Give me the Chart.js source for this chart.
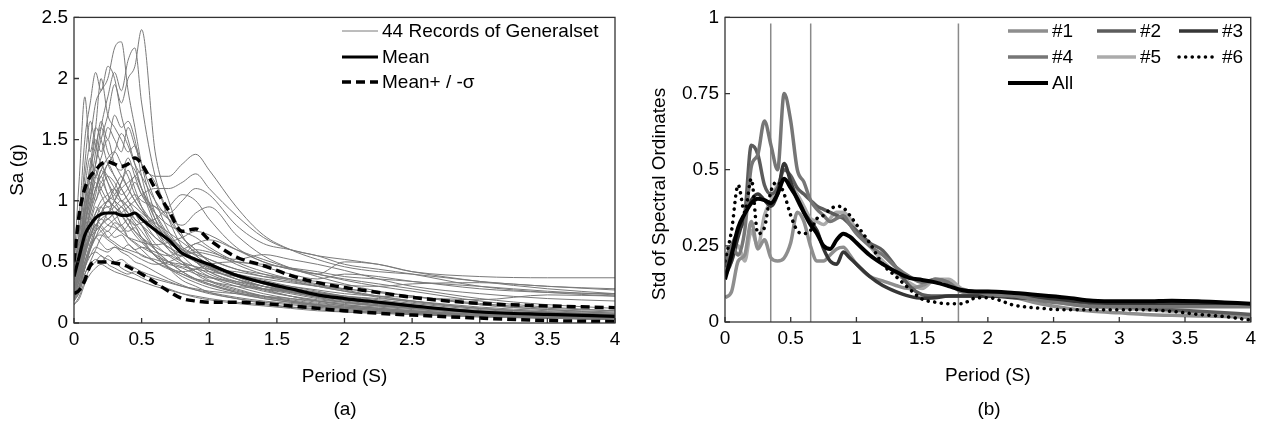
<!DOCTYPE html>
<html>
<head>
<meta charset="utf-8">
<script src="https://cdn.jsdelivr.net/npm/chart.js@4.4.0/dist/chart.umd.min.js"></script>
<style>
  body { margin: 0; background: #fff; }
  #wrap { position: relative; width: 1261px; height: 431px; font-family: "Liberation Sans", Arial, sans-serif; }
  canvas { position: absolute; top: 0; }
  .cap { position: absolute; top: 398px; width: 100px; text-align: center; font-size: 19px; color: #000; }
</style>
</head>
<body>
<div id="wrap">
  <canvas id="chartA" width="630" height="431" style="left:0"></canvas>
  <canvas id="chartB" width="631" height="431" style="left:630px"></canvas>
  <div class="cap" style="left:295px">(a)</div>
  <div class="cap" style="left:939px">(b)</div>
</div>
<script>
// ---- panel (a): spectral acceleration of the records ----
const periodA = [0, 0.04, 0.08, 0.12, 0.16, 0.2, 0.25, 0.3, 0.35, 0.4, 0.45, 0.5, 0.6, 0.7, 0.8, 0.9, 1.0, 1.2, 1.4, 1.6, 1.8, 2.0, 2.25, 2.5, 3.0, 3.5, 4.0];

const records = [
  [0.40,0.55,0.90,1.10,1.30,1.50,1.70,1.95,1.80,2.00,2.10,2.40,1.40,1.00,0.72,0.56,0.46,0.36,0.28,0.22,0.18,0.15,0.12,0.10,0.07,0.05,0.04],
  [0.45,0.75,1.20,1.50,1.80,1.90,2.00,2.25,2.30,1.90,1.60,1.30,0.90,0.70,0.55,0.45,0.38,0.30,0.24,0.20,0.17,0.14,0.12,0.10,0.07,0.05,0.04],
  [0.35,0.50,0.80,1.00,1.30,1.60,1.85,2.05,1.90,2.15,2.25,1.80,1.20,0.90,0.70,0.60,0.50,0.40,0.32,0.26,0.21,0.17,0.14,0.12,0.09,0.07,0.05],
  [0.50,0.90,1.50,1.80,2.05,1.90,2.10,2.00,1.70,1.50,1.30,1.10,0.80,0.60,0.50,0.42,0.35,0.28,0.22,0.18,0.15,0.12,0.10,0.08,0.06,0.04,0.03],
  [0.50,1.20,1.85,1.40,1.60,1.50,1.30,1.20,1.10,1.00,0.90,0.80,0.60,0.45,0.35,0.30,0.25,0.20,0.16,0.13,0.11,0.09,0.08,0.07,0.05,0.04,0.03],
  [0.30,0.40,0.60,0.70,0.80,0.85,0.90,1.00,1.10,1.15,1.20,1.25,1.20,1.20,1.30,1.38,1.25,0.95,0.72,0.60,0.52,0.46,0.42,0.40,0.34,0.30,0.28],
  [0.25,0.35,0.50,0.60,0.70,0.75,0.80,0.85,0.90,0.95,1.00,1.05,1.10,1.10,1.15,1.22,1.10,0.88,0.70,0.60,0.55,0.48,0.44,0.40,0.30,0.25,0.22],
  [0.30,0.40,0.60,0.70,0.75,0.80,0.85,0.90,0.95,1.00,1.05,1.00,0.95,0.90,1.00,1.10,1.05,0.80,0.65,0.60,0.55,0.52,0.48,0.42,0.38,0.37,0.37],
  [0.40,0.60,1.00,1.30,1.60,2.00,1.70,1.60,1.50,1.40,1.45,1.30,1.00,0.75,0.60,0.50,0.42,0.33,0.27,0.22,0.18,0.15,0.13,0.11,0.08,0.06,0.05],
  [0.30,0.50,0.80,1.10,1.40,1.65,1.50,1.70,1.60,1.65,1.50,1.20,0.85,0.65,0.50,0.40,0.34,0.27,0.22,0.18,0.15,0.13,0.11,0.09,0.07,0.05,0.04],
  [0.35,0.55,0.90,1.20,1.50,1.40,1.60,1.50,1.40,1.60,1.45,1.30,1.15,0.85,0.62,0.50,0.42,0.34,0.28,0.24,0.20,0.17,0.14,0.12,0.09,0.07,0.05],
  [0.25,0.45,0.70,0.90,1.10,1.20,1.30,1.40,1.55,1.45,1.30,1.20,1.00,0.85,0.70,0.60,0.50,0.38,0.30,0.25,0.21,0.18,0.15,0.12,0.09,0.07,0.05],
  [0.30,0.50,0.85,1.10,1.25,1.15,1.30,1.20,1.10,1.00,0.95,0.90,0.80,0.70,0.62,0.55,0.48,0.40,0.35,0.30,0.26,0.22,0.18,0.15,0.10,0.08,0.06],
  [0.28,0.40,0.65,0.85,1.00,1.10,1.20,1.15,1.05,1.10,1.20,1.10,0.85,0.70,0.60,0.52,0.45,0.36,0.30,0.26,0.22,0.19,0.16,0.13,0.09,0.07,0.05],
  [0.40,0.65,1.00,1.15,1.10,1.20,1.05,1.00,0.95,0.90,0.85,0.80,0.65,0.55,0.48,0.42,0.38,0.32,0.28,0.25,0.22,0.19,0.16,0.13,0.09,0.07,0.05],
  [0.22,0.35,0.55,0.75,0.90,1.00,1.05,1.10,1.00,0.95,0.90,0.88,0.75,0.65,0.60,0.56,0.52,0.44,0.38,0.34,0.30,0.26,0.21,0.17,0.12,0.09,0.07],
  [0.30,0.45,0.70,0.80,0.90,0.95,0.85,0.90,0.80,0.75,0.78,0.70,0.60,0.50,0.42,0.36,0.32,0.26,0.22,0.19,0.16,0.14,0.12,0.10,0.07,0.05,0.04],
  [0.20,0.30,0.45,0.60,0.75,0.80,0.90,0.95,1.00,0.95,0.85,0.80,0.70,0.62,0.56,0.50,0.46,0.40,0.36,0.33,0.30,0.28,0.25,0.22,0.15,0.11,0.08],
  [0.35,0.50,0.75,0.85,0.80,0.90,0.95,0.85,0.80,0.85,0.80,0.70,0.55,0.45,0.38,0.33,0.29,0.24,0.20,0.17,0.15,0.13,0.11,0.09,0.06,0.05,0.04],
  [0.25,0.40,0.55,0.70,0.80,0.75,0.70,0.75,0.80,0.70,0.65,0.60,0.50,0.44,0.40,0.36,0.34,0.30,0.28,0.26,0.24,0.22,0.19,0.16,0.11,0.08,0.06],
  [0.18,0.25,0.40,0.50,0.60,0.70,0.75,0.70,0.72,0.65,0.60,0.62,0.58,0.55,0.60,0.65,0.68,0.60,0.52,0.45,0.40,0.36,0.32,0.28,0.20,0.15,0.12],
  [0.30,0.45,0.60,0.65,0.70,0.65,0.60,0.62,0.58,0.55,0.50,0.48,0.42,0.36,0.31,0.27,0.24,0.20,0.17,0.15,0.13,0.11,0.09,0.08,0.06,0.04,0.03],
  [0.20,0.30,0.45,0.55,0.62,0.60,0.58,0.62,0.60,0.64,0.60,0.55,0.52,0.48,0.45,0.40,0.37,0.34,0.30,0.27,0.25,0.22,0.20,0.18,0.13,0.10,0.08],
  [0.22,0.32,0.48,0.55,0.58,0.55,0.52,0.50,0.52,0.48,0.45,0.42,0.38,0.34,0.30,0.27,0.25,0.21,0.18,0.16,0.14,0.12,0.10,0.09,0.06,0.05,0.04],
  [0.18,0.26,0.40,0.48,0.52,0.50,0.55,0.50,0.45,0.42,0.40,0.37,0.32,0.28,0.24,0.21,0.19,0.16,0.14,0.12,0.10,0.09,0.08,0.07,0.05,0.04,0.03],
  [0.15,0.22,0.35,0.45,0.50,0.55,0.48,0.45,0.42,0.40,0.42,0.40,0.36,0.33,0.30,0.28,0.26,0.24,0.22,0.20,0.18,0.16,0.14,0.12,0.08,0.06,0.05],
  [0.30,0.50,0.80,1.00,1.15,1.05,0.95,1.00,1.15,1.25,1.10,0.95,0.75,0.60,0.55,0.65,0.60,0.48,0.40,0.35,0.30,0.26,0.22,0.18,0.12,0.09,0.07],
  [0.35,0.60,0.95,1.25,1.45,1.60,1.40,1.30,1.20,1.10,1.00,0.92,0.78,0.66,0.58,0.52,0.46,0.38,0.32,0.27,0.23,0.20,0.16,0.13,0.09,0.07,0.05],
  [0.25,0.40,0.65,0.95,1.20,1.35,1.50,1.30,1.25,1.35,1.20,1.05,0.90,0.80,0.75,0.70,0.62,0.50,0.42,0.36,0.31,0.27,0.22,0.18,0.12,0.09,0.07],
  [0.28,0.42,0.70,0.90,1.05,1.25,1.15,1.05,1.00,1.05,1.15,1.05,0.95,0.85,0.80,0.90,0.95,0.72,0.55,0.45,0.38,0.32,0.26,0.22,0.15,0.11,0.09],
  [0.32,0.48,0.80,1.05,1.20,1.10,1.00,0.95,0.90,0.85,0.80,0.82,0.85,0.95,1.05,1.00,0.85,0.62,0.50,0.44,0.40,0.35,0.30,0.26,0.18,0.13,0.10],
  [0.40,0.70,1.10,1.35,1.20,1.30,1.15,1.00,0.90,0.80,0.72,0.66,0.55,0.46,0.40,0.35,0.31,0.25,0.21,0.18,0.15,0.13,0.11,0.09,0.06,0.05,0.04],
  [0.22,0.35,0.55,0.70,0.85,0.95,1.00,1.05,1.15,1.30,1.25,1.10,0.90,0.72,0.60,0.52,0.47,0.40,0.34,0.29,0.25,0.21,0.17,0.14,0.10,0.07,0.05],
  [0.20,0.28,0.45,0.60,0.70,0.80,0.85,0.80,0.75,0.80,0.90,0.85,0.70,0.62,0.55,0.58,0.56,0.50,0.48,0.45,0.42,0.38,0.36,0.34,0.28,0.25,0.24],
  [0.25,0.36,0.58,0.72,0.80,0.78,0.70,0.66,0.62,0.60,0.58,0.56,0.50,0.45,0.42,0.44,0.48,0.50,0.46,0.40,0.36,0.40,0.38,0.34,0.30,0.26,0.23],
  [0.20,0.30,0.50,0.62,0.70,0.72,0.68,0.64,0.60,0.58,0.55,0.52,0.48,0.50,0.55,0.60,0.58,0.52,0.56,0.52,0.48,0.43,0.36,0.30,0.24,0.20,0.18],
  [0.45,0.75,1.30,1.65,1.45,1.30,1.20,1.10,1.00,0.90,0.82,0.75,0.60,0.50,0.42,0.36,0.32,0.25,0.20,0.17,0.14,0.12,0.10,0.08,0.06,0.04,0.03],
  [0.30,0.45,0.75,0.95,1.10,1.25,1.35,1.40,1.30,1.20,1.05,0.95,0.80,0.68,0.58,0.50,0.44,0.36,0.30,0.26,0.22,0.19,0.16,0.13,0.09,0.07,0.05],
  [0.28,0.40,0.62,0.80,0.95,0.90,1.00,0.95,0.88,0.80,0.75,0.70,0.62,0.56,0.50,0.46,0.44,0.42,0.38,0.36,0.34,0.31,0.30,0.32,0.33,0.30,0.27],
  [0.15,0.20,0.32,0.40,0.45,0.48,0.45,0.42,0.40,0.38,0.36,0.34,0.30,0.27,0.24,0.22,0.20,0.17,0.15,0.13,0.12,0.10,0.09,0.08,0.06,0.05,0.04],
  [0.35,0.55,0.90,1.10,1.00,1.15,1.05,0.90,0.95,0.85,0.75,0.68,0.55,0.50,0.48,0.46,0.40,0.32,0.26,0.22,0.19,0.17,0.15,0.13,0.09,0.07,0.05],
  [0.18,0.28,0.45,0.62,0.75,0.90,1.00,1.10,1.20,1.10,1.00,0.92,0.82,0.74,0.66,0.58,0.52,0.44,0.40,0.36,0.32,0.28,0.25,0.22,0.16,0.12,0.10],
  [0.26,0.38,0.60,0.75,0.85,0.80,0.75,0.82,0.78,0.70,0.66,0.62,0.56,0.50,0.46,0.44,0.42,0.38,0.33,0.30,0.27,0.24,0.22,0.21,0.19,0.23,0.22],
  [0.20,0.30,0.50,0.65,0.78,0.85,0.80,0.78,0.74,0.70,0.68,0.66,0.64,0.66,0.70,0.75,0.72,0.60,0.50,0.44,0.40,0.50,0.48,0.42,0.34,0.28,0.24]
];

const meanSa  = [0.38,0.55,0.72,0.80,0.86,0.89,0.90,0.90,0.88,0.88,0.90,0.85,0.76,0.68,0.57,0.52,0.48,0.39,0.33,0.28,0.23,0.20,0.17,0.14,0.09,0.07,0.055];
const upperSa = [0.50,0.90,1.10,1.20,1.25,1.30,1.32,1.30,1.28,1.30,1.35,1.30,1.10,0.92,0.75,0.77,0.68,0.54,0.47,0.39,0.33,0.29,0.25,0.21,0.16,0.14,0.125];
const lowerSa = [0.24,0.27,0.35,0.47,0.50,0.50,0.50,0.49,0.48,0.46,0.43,0.40,0.33,0.26,0.20,0.18,0.17,0.17,0.16,0.14,0.12,0.10,0.08,0.065,0.04,0.02,0.01];

// ---- panel (b): standard deviation of spectral ordinates ----
const periodB = [0,0.05,0.1,0.15,0.2,0.25,0.3,0.35,0.4,0.45,0.5,0.55,0.6,0.65,0.7,0.75,0.8,0.85,0.9,0.95,1.0,1.1,1.2,1.3,1.4,1.5,1.6,1.7,1.8,1.9,2.0,2.2,2.4,2.6,2.8,3.0,3.2,3.4,3.6,3.8,4.0];
const std1 = [0.08,0.10,0.2,0.22,0.33,0.24,0.27,0.21,0.2,0.21,0.26,0.36,0.33,0.25,0.2,0.2,0.22,0.24,0.245,0.22,0.19,0.15,0.135,0.12,0.11,0.12,0.14,0.13,0.1,0.09,0.09,0.08,0.06,0.045,0.035,0.03,0.025,0.022,0.02,0.018,0.015];
const std2 = [0.18,0.25,0.3,0.35,0.58,0.55,0.45,0.42,0.44,0.5,0.48,0.44,0.42,0.4,0.38,0.37,0.36,0.35,0.34,0.32,0.3,0.26,0.235,0.18,0.12,0.09,0.085,0.085,0.085,0.085,0.085,0.085,0.08,0.07,0.06,0.05,0.045,0.04,0.035,0.03,0.025];
const std3 = [0.15,0.2,0.28,0.35,0.4,0.42,0.4,0.38,0.42,0.52,0.46,0.4,0.36,0.33,0.3,0.24,0.2,0.19,0.23,0.21,0.19,0.15,0.12,0.1,0.085,0.078,0.08,0.085,0.085,0.085,0.085,0.08,0.075,0.07,0.065,0.06,0.06,0.06,0.06,0.06,0.055];
const std4 = [0.2,0.25,0.22,0.3,0.51,0.55,0.66,0.58,0.5,0.75,0.66,0.5,0.46,0.4,0.37,0.35,0.33,0.34,0.35,0.32,0.29,0.25,0.22,0.18,0.15,0.13,0.14,0.13,0.1,0.1,0.09,0.085,0.07,0.06,0.05,0.05,0.05,0.05,0.05,0.05,0.05];
const std5 = [0.16,0.2,0.25,0.2,0.3,0.25,0.35,0.4,0.45,0.47,0.45,0.42,0.38,0.34,0.33,0.32,0.34,0.36,0.36,0.34,0.3,0.25,0.2,0.16,0.13,0.11,0.14,0.14,0.11,0.1,0.1,0.09,0.075,0.06,0.05,0.045,0.04,0.035,0.03,0.025,0.02];
const std6 = [0.2,0.3,0.45,0.36,0.47,0.29,0.31,0.43,0.46,0.42,0.35,0.3,0.29,0.3,0.34,0.35,0.37,0.38,0.375,0.35,0.32,0.26,0.19,0.15,0.11,0.075,0.065,0.06,0.06,0.078,0.08,0.055,0.045,0.04,0.04,0.04,0.04,0.035,0.025,0.018,0.006];
const stdAll = [0.14,0.22,0.31,0.355,0.39,0.405,0.40,0.39,0.42,0.47,0.44,0.405,0.36,0.32,0.29,0.25,0.24,0.27,0.29,0.28,0.26,0.22,0.19,0.165,0.145,0.138,0.13,0.118,0.105,0.10,0.10,0.095,0.088,0.08,0.07,0.068,0.068,0.07,0.068,0.064,0.06];
const markerPeriods = [0.348, 0.652, 1.776];
const markerTop = 0.98;

const FONT = '"Liberation Sans", Arial, sans-serif';

function pts(xs, ys) {
  return xs.map((x, i) => ({ x: x, y: ys[i] }));
}

// box round the plot area, inward ticks and the rotated y title
const framePlugin = {
  id: 'frame',
  afterDatasetsDraw(chart, args, opts) {
    const { ctx, chartArea: a, scales } = chart;
    ctx.save();
    ctx.strokeStyle = '#333';
    ctx.lineWidth = 1.3;
    ctx.strokeRect(a.left, a.top, a.right - a.left, a.bottom - a.top);
    ctx.beginPath();
    scales.x.ticks.forEach(t => {
      const px = scales.x.getPixelForValue(t.value);
      ctx.moveTo(px, a.bottom); ctx.lineTo(px, a.bottom - 5);
    });
    scales.y.ticks.forEach(t => {
      const py = scales.y.getPixelForValue(t.value);
      ctx.moveTo(a.left, py); ctx.lineTo(a.left + 5, py);
    });
    ctx.stroke();

    ctx.translate(opts.titleX, opts.titleY);
    ctx.rotate(-Math.PI / 2);
    ctx.font = '19px ' + FONT;
    ctx.fillStyle = '#000';
    ctx.textAlign = 'center';
    ctx.textBaseline = 'middle';
    ctx.fillText(opts.title, 0, 0);
    ctx.restore();
  }
};

// legend drawn inside the plot area
const boxLegend = {
  id: 'boxLegend',
  afterDraw(chart, args, opts) {
    const ctx = chart.ctx;
    ctx.save();
    ctx.font = '19px ' + FONT;
    ctx.textBaseline = 'middle';
    opts.items.forEach(it => {
      const ds = chart.data.datasets[it.index];
      ctx.strokeStyle = ds.borderColor;
      ctx.lineWidth = ds.borderWidth;
      ctx.lineCap = ds.borderCapStyle || 'butt';
      ctx.setLineDash(ds.borderDash || []);
      ctx.beginPath();
      ctx.moveTo(it.x, it.y);
      ctx.lineTo(it.x + it.len, it.y);
      ctx.stroke();
      ctx.setLineDash([]);
      ctx.fillStyle = '#000';
      ctx.fillText(ds.label, it.x + it.len + 4, it.y + 1);
    });
    ctx.restore();
  }
};

const tickText = v => String(+v.toFixed(2));

function axes(yMax, yStep, yWidth) {
  return {
    x: {
      type: 'linear', min: 0, max: 4,
      afterFit: s => { s.height = 70; },
      ticks: { stepSize: 0.5, autoSkip: false, maxRotation: 0, padding: 5, color: '#000', font: { family: FONT, size: 19 }, callback: tickText },
      grid: { display: false, drawTicks: false },
      border: { display: false },
      title: { display: true, text: 'Period (S)', color: '#000', font: { family: FONT, size: 19 }, padding: { top: 0, bottom: 5 } }
    },
    y: {
      min: 0, max: yMax,
      afterFit: s => { s.width = yWidth; },
      ticks: { stepSize: yStep, padding: 6, color: '#000', font: { family: FONT, size: 19 }, callback: tickText },
      grid: { display: false, drawTicks: false },
      border: { display: false }
    }
  };
}

// ---- chart (a) ----
const dsA = [];
records.forEach((r, i) => {
  dsA.push({
    label: i === 0 ? '44 Records of Generalset' : 'Record ' + (i + 1),
    data: pts(periodA, r),
    borderColor: '#7a7a7a', borderWidth: 1, order: 3
  });
});
dsA.push({ label: 'Mean', data: pts(periodA, meanSa), borderColor: '#000', borderWidth: 3.2, order: 1 });
dsA.push({ label: 'Mean+ / -\u03c3', data: pts(periodA, upperSa), borderColor: '#000', borderWidth: 3.5, borderDash: [9, 5], order: 2 });
dsA.push({ label: 'Mean-\u03c3', data: pts(periodA, lowerSa), borderColor: '#000', borderWidth: 3.5, borderDash: [9, 5], order: 2 });

new Chart(document.getElementById('chartA'), {
  type: 'line',
  data: { datasets: dsA },
  options: {
    responsive: false, animation: false, devicePixelRatio: 1,
    layout: { padding: { left: 0, right: 15, top: 14, bottom: 38 } },
    elements: { point: { radius: 0 }, line: { cubicInterpolationMode: 'monotone' } },
    scales: axes(2.5, 0.5, 74),
    plugins: {
      legend: { display: false },
      tooltip: { enabled: false },
      frame: { title: 'Sa (g)', titleX: 18, titleY: 170 },
      boxLegend: {
        items: [
          { index: 0, x: 342, y: 31, len: 36 },
          { index: records.length, x: 342, y: 57, len: 36 },
          { index: records.length + 1, x: 342, y: 82, len: 36 }
        ]
      }
    }
  },
  plugins: [framePlugin, boxLegend]
});

// ---- chart (b) ----
const dsB = [
  { label: '#1', data: pts(periodB, std1), borderColor: '#8e8e8e', borderWidth: 3.5, order: 6 },
  { label: '#2', data: pts(periodB, std2), borderColor: '#5c5c5c', borderWidth: 3.5, order: 5 },
  { label: '#3', data: pts(periodB, std3), borderColor: '#363636', borderWidth: 3.5, order: 4 },
  { label: '#4', data: pts(periodB, std4), borderColor: '#767676', borderWidth: 3.5, order: 3 },
  { label: '#5', data: pts(periodB, std5), borderColor: '#ababab', borderWidth: 3.5, order: 7 },
  { label: '#6', data: pts(periodB, std6), borderColor: '#000', borderWidth: 3.5, borderDash: [0.1, 6.5], borderCapStyle: 'round', order: 2 },
  { label: 'All', data: pts(periodB, stdAll), borderColor: '#000', borderWidth: 4, order: 1 }
];
markerPeriods.forEach(p => {
  dsB.push({ label: 'T', data: [{ x: p, y: 0 }, { x: p, y: markerTop }], borderColor: '#8a8a8a', borderWidth: 1.5, order: 10 });
});

new Chart(document.getElementById('chartB'), {
  type: 'line',
  data: { datasets: dsB },
  options: {
    responsive: false, animation: false, devicePixelRatio: 1,
    layout: { padding: { left: 0, right: 9, top: 14, bottom: 39 } },
    elements: { point: { radius: 0 }, line: { cubicInterpolationMode: 'monotone' } },
    scales: axes(1, 0.25, 95),
    plugins: {
      legend: { display: false },
      tooltip: { enabled: false },
      frame: { title: 'Std of Spectral Ordinates', titleX: 30, titleY: 194 },
      boxLegend: {
        items: [
          { index: 0, x: 378, y: 31, len: 40 },
          { index: 1, x: 467, y: 31, len: 39 },
          { index: 2, x: 549, y: 31, len: 39 },
          { index: 3, x: 378, y: 57, len: 40 },
          { index: 4, x: 467, y: 57, len: 39 },
          { index: 5, x: 549, y: 57, len: 39 },
          { index: 6, x: 378, y: 83, len: 40 }
        ]
      }
    }
  },
  plugins: [framePlugin, boxLegend]
});
</script>
</body>
</html>
